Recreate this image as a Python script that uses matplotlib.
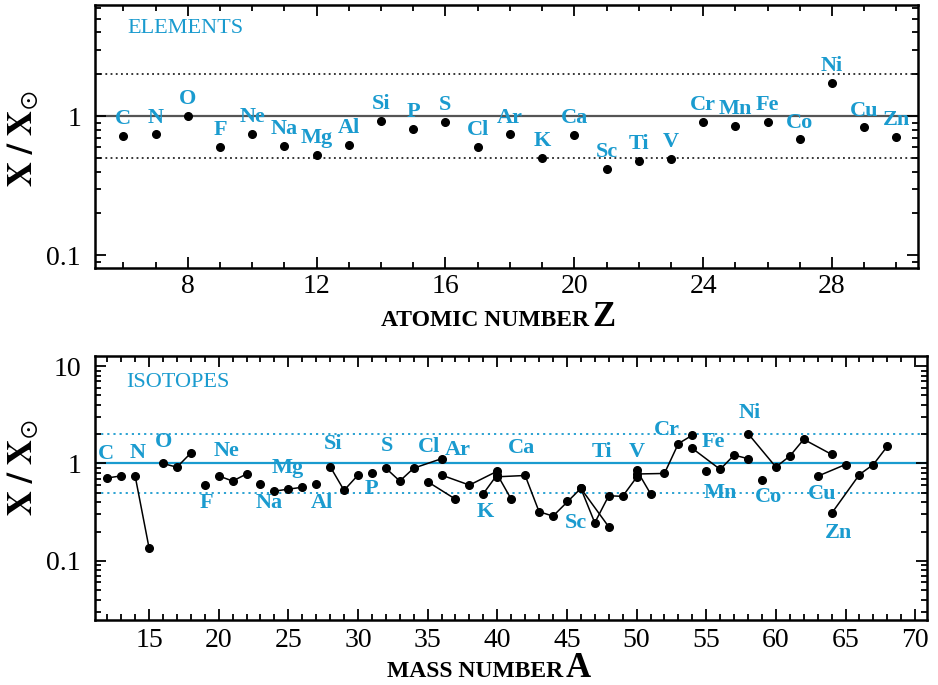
import numpy as np
import matplotlib
matplotlib.use('Agg')
import matplotlib.pyplot as plt
from matplotlib.ticker import LogLocator, FixedLocator, MultipleLocator, NullFormatter, FuncFormatter

plt.rcParams['font.family'] = ['Liberation Serif', 'DejaVu Serif']
plt.rcParams['mathtext.fontset'] = 'stix'

CYAN = '#1a9bcf'

# ---------------- data: elements ----------------
elem_symbols = ['C', 'N', 'O', 'F', 'Ne', 'Na', 'Mg', 'Al', 'Si', 'P', 'S', 'Cl', 'Ar',
                'K', 'Ca', 'Sc', 'Ti', 'V', 'Cr', 'Mn', 'Fe', 'Co', 'Ni', 'Cu', 'Zn']
elem_Z = [6, 7, 8, 9, 10, 11, 12, 13, 14, 15, 16, 17, 18,
          19, 20, 21, 22, 23, 24, 25, 26, 27, 28, 29, 30]
elem_ratio = [0.72, 0.74, 1.00, 0.60, 0.75, 0.61, 0.53, 0.62, 0.92, 0.81, 0.905, 0.60, 0.74,
              0.50, 0.73, 0.42, 0.48, 0.49, 0.905, 0.85, 0.905, 0.68, 1.73, 0.83, 0.71]

# ---------------- data: isotopes ----------------
iso_element = ['C', 'C', 'N', 'N', 'O', 'O', 'O', 'F', 'Ne', 'Ne', 'Ne', 'Na',
               'Mg', 'Mg', 'Mg', 'Al', 'Si', 'Si', 'Si', 'P', 'S', 'S', 'S', 'S',
               'Cl', 'Cl', 'Ar', 'Ar', 'Ar', 'K', 'K', 'K',
               'Ca', 'Ca', 'Ca', 'Ca', 'Ca', 'Ca', 'Sc', 'Ti', 'Ti', 'Ti', 'Ti', 'Ti',
               'V', 'V', 'Cr', 'Cr', 'Cr', 'Cr', 'Mn', 'Fe', 'Fe', 'Fe', 'Fe', 'Co',
               'Ni', 'Ni', 'Ni', 'Ni', 'Ni', 'Cu', 'Cu', 'Zn', 'Zn', 'Zn', 'Zn']
iso_A = [12, 13, 14, 15, 16, 17, 18, 19, 20, 21, 22, 23,
         24, 25, 26, 27, 28, 29, 30, 31, 32, 33, 34, 36,
         35, 37, 36, 38, 40, 39, 40, 41,
         40, 42, 43, 44, 46, 48, 45, 46, 47, 48, 49, 50,
         50, 51, 50, 52, 53, 54, 55, 54, 56, 57, 58, 59,
         58, 60, 61, 62, 64, 63, 65, 64, 66, 67, 68]
iso_ratio = [0.71, 0.746, 0.746, 0.136, 1.00, 0.916, 1.28, 0.60, 0.746, 0.66, 0.78, 0.61,
             0.52, 0.545, 0.57, 0.62, 0.93, 0.53, 0.76, 0.79, 0.895, 0.66, 0.895, 1.12,
             0.65, 0.43, 0.76, 0.60, 0.834, 0.49, 0.77, 0.43,
             0.73, 0.753, 0.32, 0.288, 0.555, 0.224, 0.41, 0.555, 0.246, 0.466, 0.46, 0.72,
             0.86, 0.49, 0.78, 0.79, 1.60, 1.95, 0.83, 1.43, 0.87, 1.22, 1.12, 0.67,
             2.03, 0.92, 1.19, 1.77, 1.24, 0.74, 0.976, 0.307, 0.77, 0.976, 1.50]

# label placement for the isotope panel (data coordinates of text centre)
iso_label_names = ['C', 'N', 'O', 'F', 'Ne', 'Na', 'Mg', 'Al', 'Si', 'P', 'S', 'Cl', 'Ar',
                   'K', 'Ca', 'Sc', 'Ti', 'V', 'Cr', 'Mn', 'Fe', 'Co', 'Ni', 'Cu', 'Zn']
iso_label_x = [11.91, 14.19, 16.03, 19.09, 20.53, 23.61, 24.93, 27.40, 28.23, 30.99, 32.11, 35.12, 37.16,
               39.17, 41.76, 45.65, 47.50, 50.01, 52.16, 55.99, 55.54, 59.46, 58.14, 63.29, 64.48]
iso_label_y = [1.266, 1.284, 1.665, 0.394, 1.337, 0.389, 0.901, 0.394, 1.60, 0.541, 1.50, 1.46, 1.37,
               0.319, 1.43, 0.243, 1.315, 1.315, 2.23, 0.50, 1.665, 0.454, 3.30, 0.484, 0.194]

# ---------------- figure ----------------
W, H = 938, 685
fig = plt.figure(figsize=(W / 100, H / 100), dpi=100)

def px_axes(l, t, r, b):
    return fig.add_axes([l / W, 1 - b / H, (r - l) / W, (b - t) / H])

ax1 = px_axes(95, 5, 918, 268)
ax2 = px_axes(95, 356, 927, 620)

TICKFS = 20
LABFS = 16

def style_axes(ax):
    for s in ax.spines.values():
        s.set_linewidth(1.8)
    ax.tick_params(which='both', direction='in', top=True, right=True, width=1.3,
                   labelsize=TICKFS)
    ax.tick_params(which='major', length=8)
    ax.tick_params(which='minor', length=4.5)
    ax.set_yscale('log')
    ax.yaxis.set_major_locator(FixedLocator([0.1, 1, 10]))
    ax.yaxis.set_minor_locator(LogLocator(base=10, subs=np.arange(2, 10), numticks=20))
    ax.yaxis.set_minor_formatter(NullFormatter())
    ax.yaxis.set_major_formatter(FuncFormatter(lambda v, p: '%g' % v))
    ax.tick_params(axis='y', which='major', pad=10)

# ---------- top panel ----------
style_axes(ax1)
ax1.set_xlim(5.12, 30.67)
ax1.set_ylim(0.081, 6.3)
ax1.xaxis.set_major_locator(MultipleLocator(4))
ax1.xaxis.set_minor_locator(MultipleLocator(1))
ax1.tick_params(axis='x', which='major', pad=4)
ax1.axhline(1.0, color='#555555', lw=1.6, zorder=1)
ax1.axhline(2.0, color='black', lw=1.1, ls=(0, (1.2, 2.2)), zorder=1)
ax1.axhline(0.5, color='black', lw=1.1, ls=(0, (1.2, 2.2)), zorder=1)
ax1.plot(elem_Z, elem_ratio, 'o', color='black', ms=5.5, zorder=3)
for sym, z, r in zip(elem_symbols, elem_Z, elem_ratio):
    ax1.annotate(sym, (z, r), xytext=(0, 8.5), textcoords='offset points',
                 ha='center', va='baseline', fontsize=LABFS, fontweight='bold',
                 color=CYAN)
ax1.text(0.039, 0.912, 'ELEMENTS', transform=ax1.transAxes, color=CYAN,
         fontsize=16, ha='left', va='center')
ax1.set_ylabel(r'$\mathbf{X\ /\ X}_{\odot}$', fontsize=25)
ax1.yaxis.set_label_coords(-0.066, 0.49)

# ---------- bottom panel ----------
style_axes(ax2)
ax2.set_xlim(11.12, 70.85)
ax2.set_ylim(0.0247, 12.7)
ax2.xaxis.set_major_locator(MultipleLocator(5))
ax2.xaxis.set_minor_locator(MultipleLocator(1))
ax2.tick_params(axis='x', which='major', pad=6)
ax2.axhline(1.0, color=CYAN, lw=1.6, zorder=1)
ax2.axhline(2.0, color=CYAN, lw=1.3, ls=(0, (1.2, 2.2)), zorder=1)
ax2.axhline(0.5, color=CYAN, lw=1.3, ls=(0, (1.2, 2.2)), zorder=1)

order = []
for e in iso_element:
    if e not in order:
        order.append(e)
for e in order:
    pts = sorted([(a, r) for el, a, r in zip(iso_element, iso_A, iso_ratio) if el == e])
    xs = [p[0] for p in pts]
    ys = [p[1] for p in pts]
    ax2.plot(xs, ys, '-', color='black', lw=1.1, zorder=2)
    ax2.plot(xs, ys, 'o', color='black', ms=5.5, zorder=3)

for name, lx, ly in zip(iso_label_names, iso_label_x, iso_label_y):
    ax2.text(lx, ly, name, ha='center', va='center', fontsize=LABFS,
             fontweight='bold', color=CYAN, zorder=4)
ax2.text(0.038, 0.900, 'ISOTOPES', transform=ax2.transAxes, color=CYAN,
         fontsize=16, ha='left', va='center')
ax2.set_ylabel(r'$\mathbf{X\ /\ X}_{\odot}$', fontsize=25)
ax2.yaxis.set_label_coords(-0.065, 0.575)

# ---------- x-axis titles ----------
fig.text(589 / W, 1 - 326 / H, 'ATOMIC NUMBER', ha='right', va='baseline',
         fontsize=17, fontweight='bold')
fig.text(592 / W, 1 - 326 / H, 'Z', ha='left', va='baseline',
         fontsize=25, fontweight='bold')
fig.text(563 / W, 1 - 677 / H, 'MASS NUMBER', ha='right', va='baseline',
         fontsize=17, fontweight='bold')
fig.text(566 / W, 1 - 677 / H, 'A', ha='left', va='baseline',
         fontsize=25, fontweight='bold')

fig.savefig('out.png', dpi=100)
